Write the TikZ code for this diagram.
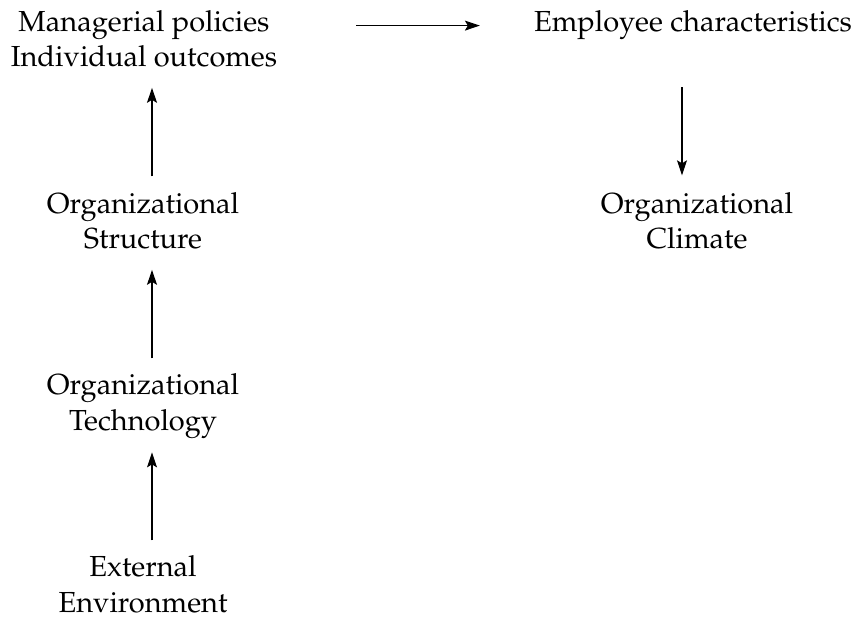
\documentclass[tikz,border=0pt]{standalone}
\IfFileExists{mathpazo.sty}
  {\usepackage[T1]{fontenc}\usepackage{mathpazo}}
  {\usepackage{fontspec}\setmainfont{Liberation Serif}}
\usetikzlibrary{arrows.meta}
\begin{document}
\begin{tikzpicture}[x=1pt,y=-1pt,
  label/.style={align=center,inner sep=0pt,anchor=base,
    font=\fontsize{29}{35.5}\selectfont},
  link/.style={-{Stealth[length=15pt,width=10pt,inset=3pt]},line width=1.2pt}]
\useasboundingbox (0,0) rectangle (858,617);
% anchor=base sits on the last line of each label
\node[label] (mgr) at (144,67) {Managerial policies\\Individual outcomes};
\node[label] (emp) at (693,32) {Employee characteristics};
\node[label] (str) at (143,249) {Organizational\\Structure};
\node[label] (cli) at (697,249) {Organizational\\Climate};
\node[label] (tec) at (143,430) {Organizational\\Technology};
\node[label] (ext) at (143,612) {External\\Environment};
% causal links
\draw[link, shorten <=16pt, shorten >=20pt]
  ([xshift=9pt]str.north) -- ([xshift=9pt]str.north |- mgr.south);
\draw[link, shorten <=15pt, shorten >=20pt]
  ([xshift=9pt]tec.north) -- ([xshift=9pt]tec.north |- str.south);
\draw[link, shorten <=15pt, shorten >=14pt]
  ([xshift=9pt]ext.north) -- ([xshift=9pt]ext.north |- tec.south);
\draw[link, shorten <=79pt, shorten >=54pt]
  (mgr.east |- emp.west) -- (emp.west);
\draw[link, shorten <=47pt, shorten >=17pt]
  ([xshift=-15pt]cli.north |- emp.south) -- ([xshift=-15pt]cli.north);
\end{tikzpicture}
\end{document}
